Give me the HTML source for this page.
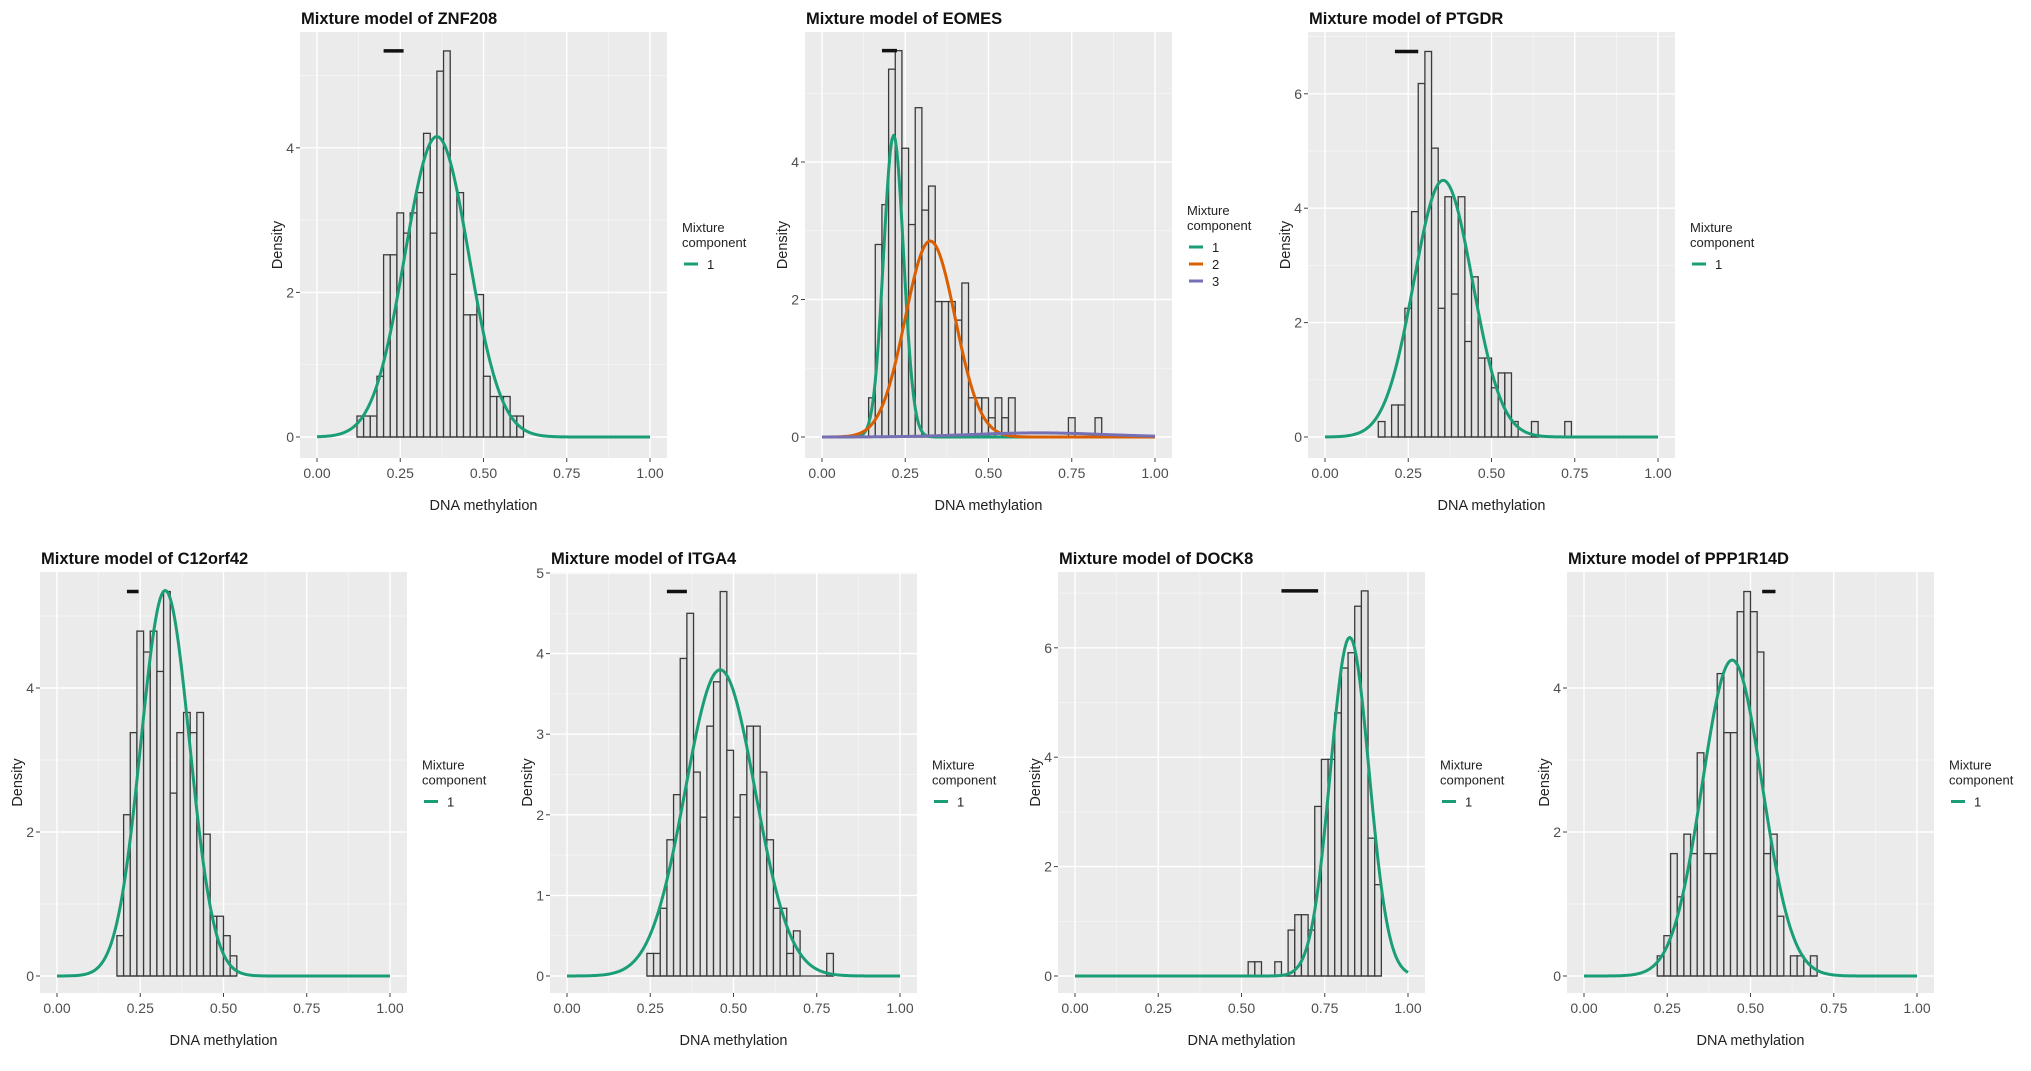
<!DOCTYPE html>
<html><head><meta charset="utf-8">
<style>
html,body{margin:0;padding:0;background:#fff;}
svg{display:block;font-family:"Liberation Sans",Arial,sans-serif;}
</style></head>
<body>
<svg id="fig" width="2031" height="1071" viewBox="0 0 2031 1071" xmlns="http://www.w3.org/2000/svg"></svg>
<script>
// ---- data ----
const panelTitles = ["Mixture model of ZNF208","Mixture model of EOMES","Mixture model of PTGDR","Mixture model of C12orf42","Mixture model of ITGA4","Mixture model of DOCK8","Mixture model of PPP1R14D"];
const binStarts = [0.12,0.14,0.16,0.18,0.24,0.52,0.22];
const binWidth = 0.02;
const histZNF208 = [0.29,0.29,0.29,0.84,2.52,2.52,3.1,2.82,3.1,3.38,4.2,2.82,5.06,5.34,2.25,3.38,1.69,1.69,1.97,0.84,0.56,0.56,0.56,0.29,0.29];
const histEOMES = [0.57,2.8,3.38,5.35,5.62,4.2,3.09,4.79,3.3,3.65,1.97,1.97,1.97,1.7,2.24,0.57,0.57,0.57,0.28,0.57,0.28,0.57,0,0,0,0,0,0,0,0,0.28,0,0,0,0.28];
const histPTGDR = [0.27,0,0.56,0.56,2.25,3.94,6.18,6.74,5.05,2.25,4.2,2.5,4.2,1.67,2.8,1.38,1.38,0.86,1.12,1.12,0.27,0,0,0.27,0,0,0,0,0.27];
const histC12orf42 = [0.56,2.24,3.38,4.79,4.5,4.79,4.23,5.34,2.54,3.38,3.66,3.38,3.66,1.97,0.83,0.83,0.56,0.28];
const histITGA4 = [0.28,0.28,0.84,1.69,2.25,3.94,4.5,2.53,1.97,3.1,3.65,4.77,2.8,1.97,2.25,3.1,3.1,2.53,1.69,0.84,0.84,0.28,0.56,0,0,0,0,0.28];
const histDOCK8 = [0.26,0.26,0,0,0.26,0,0.84,1.12,1.12,0.84,3.1,3.96,3.96,4.81,5.63,5.91,6.76,7.04,2.52,1.67];
const histPPP1R14D = [0.28,0.56,1.7,1.1,1.97,1.7,3.1,1.7,1.7,4.2,3.38,3.38,5.06,5.34,5.06,4.5,1.7,1.97,0.83,0,0.28,0.28,0,0.28];
// mixture components per panel: means, sds, weights
const compMeans = [[0.36],[0.215,0.325,0.65],[0.355],[0.325],[0.46],[0.825],[0.445]];
const compSds = [[0.096],[0.03,0.075,0.2],[0.088],[0.073],[0.105],[0.058],[0.09]];
const compWeights = [[1.0],[0.33,0.536,0.03],[0.99],[0.98],[1.0],[0.9],[0.99]];
// top segment (x range) per panel
const segStart = [0.20,0.18,0.21,0.21,0.30,0.62,0.535];
const segEnd = [0.26,0.225,0.28,0.245,0.36,0.73,0.575];
const yTickValues = [[0,2,4],[0,2,4],[0,2,4,6],[0,2,4],[0,1,2,3,4,5],[0,2,4,6],[0,2,4]];
const xTickValues = [0,0.25,0.5,0.75,1];
const xTickLabels = ["0.00","0.25","0.50","0.75","1.00"];
const legendLabels = [["1"],["1","2","3"],["1"],["1"],["1"],["1"],["1"]];
const hists = [histZNF208,histEOMES,histPTGDR,histC12orf42,histITGA4,histDOCK8,histPPP1R14D];

// ---- layout (not data) ----
const layout = [
 {L:300,top:32,h:426,y0:437,unit:72.3},
 {L:805,top:32,h:426,y0:437,unit:68.75},
 {L:1308,top:32,h:426,y0:437,unit:57.2},
 {L:40,top:572,h:421,y0:976,unit:72},
 {L:550,top:572,h:421,y0:976,unit:80.6},
 {L:1058,top:572,h:421,y0:976,unit:54.7},
 {L:1567,top:572,h:421,y0:976,unit:72}
];
const colors = ["#1b9e77","#d95f02","#7570b3"];
const NS = "http://www.w3.org/2000/svg";
const svg = document.getElementById('fig');
function mk(tag, attrs, parent){const e=document.createElementNS(NS,tag);for(const k in attrs)e.setAttribute(k,attrs[k]);(parent||svg).appendChild(e);return e;}
function npdf(x,m,s){return Math.exp(-0.5*((x-m)/s)**2)/(s*Math.sqrt(2*Math.PI));}

panelTitles.forEach((title,p)=>{
  const g=layout[p], W=367;
  const xs=v=>g.L+17+v*333;
  const ys=v=>g.y0-v*g.unit;
  const grp=mk('g',{});
  
  
  const bg=mk('rect',{x:g.L,y:g.top,width:W,height:g.h,fill:'#ebebeb'},grp);
  
  
  const yt=yTickValues[p], step=yt[1]-yt[0];
  const ymax=(g.y0-g.top)/g.unit, ymin=-(g.top+g.h-g.y0)/g.unit;
  for(let v=yt[0]-step/2; v<=ymax; v+=step){ if(v<ymin) continue; mk('line',{x1:g.L,x2:g.L+W,y1:ys(v),y2:ys(v),stroke:'#f7f7f7','stroke-width':0.7},grp);}
  for(let i=0;i<xTickValues.length-1;i++){const v=(xTickValues[i]+xTickValues[i+1])/2;mk('line',{x1:xs(v),x2:xs(v),y1:g.top,y2:g.top+g.h,stroke:'#f7f7f7','stroke-width':0.7},grp);}
  yt.forEach(v=>{
    mk('line',{x1:g.L,x2:g.L+W,y1:ys(v),y2:ys(v),stroke:'#fff','stroke-width':1.4},grp);
    mk('line',{x1:g.L-4,x2:g.L,y1:ys(v),y2:ys(v),stroke:'#444','stroke-width':1},grp);
    const t=mk('text',{x:g.L-6,y:ys(v)+5,'text-anchor':'end','font-size':14,fill:'#4d4d4d'},grp);
    t.textContent=String(v);
    
    
  });
  xTickValues.forEach((v,i)=>{
    mk('line',{x1:xs(v),x2:xs(v),y1:g.top,y2:g.top+g.h,stroke:'#fff','stroke-width':1.4},grp);
    mk('line',{x1:xs(v),x2:xs(v),y1:g.top+g.h,y2:g.top+g.h+4,stroke:'#444','stroke-width':1},grp);
    const t=mk('text',{x:xs(v),y:g.top+g.h+20,'text-anchor':'middle','font-size':14,fill:'#4d4d4d'},grp);
    t.textContent=xTickLabels[i];
    
    
  });
  hists[p].forEach((hv,i)=>{
    if(hv<=0) return;
    const x0=binStarts[p]+i*binWidth;
    const r=mk('rect',{x:xs(x0),y:ys(hv),width:xs(x0+binWidth)-xs(x0),height:ys(0)-ys(hv),fill:'#e2e2e2',stroke:'#3a3a3a','stroke-width':1.3},grp);
    
    
  });
  const nb=hists[p].length;
  mk('line',{x1:xs(binStarts[p]),x2:xs(binStarts[p]+nb*binWidth),y1:ys(0),y2:ys(0),stroke:'#3a3a3a','stroke-width':1.3},grp);
  compMeans[p].forEach((m,c)=>{
    let d='';
    for(let k=0;k<=200;k++){const x=k/200;const y=compWeights[p][c]*npdf(x,m,compSds[p][c]);d+=(k?'L':'M')+xs(x).toFixed(2)+','+ys(y).toFixed(2);}
    const path=mk('path',{d:d,fill:'none',stroke:colors[c],'stroke-width':3,'stroke-linejoin':'round'},grp);
    
    
  });
  const hmax=Math.max(...hists[p]);
  const seg=mk('line',{x1:xs(segStart[p]),x2:xs(segEnd[p]),y1:ys(hmax),y2:ys(hmax),stroke:'#111','stroke-width':3.5},grp);
  
  
  const tt=mk('text',{x:g.L+1,y:g.top-8,'font-size':16.5,'font-weight':'bold',fill:'#111'},grp);
  tt.textContent=title;
  
  
  const xa=mk('text',{x:g.L+W/2,y:g.top+g.h+52,'text-anchor':'middle','font-size':14.5,fill:'#222'},grp);
  xa.textContent='DNA methylation';
  
  
  const mid=g.top+g.h/2;
  const ya=mk('text',{x:0,y:0,'text-anchor':'middle','font-size':14.5,fill:'#222',transform:'translate('+(g.L-18)+','+mid+') rotate(-90)'},grp);
  ya.textContent='Density';
  
  
  const n=legendLabels[p].length;
  const lx=g.L+W+15;
  const c0=mid-18-(n-1)*8.5;
  const lg=mk('g',{},grp);
  
  
  const l1=mk('text',{x:lx,y:c0+5,'font-size':13,fill:'#222'},lg); l1.textContent='Mixture';
  const l2=mk('text',{x:lx,y:c0+20,'font-size':13,fill:'#222'},lg); l2.textContent='component';
  legendLabels[p].forEach((lab,i)=>{
    const cy=c0+37+i*17;
    const key=mk('line',{x1:lx+2,x2:lx+16,y1:cy,y2:cy,stroke:colors[i],'stroke-width':3},lg);
    
    
    const t=mk('text',{x:lx+25,y:cy+5,'font-size':13,fill:'#222'},lg);
    t.textContent=lab;
    
    
  });
});
</script>
</body></html>
